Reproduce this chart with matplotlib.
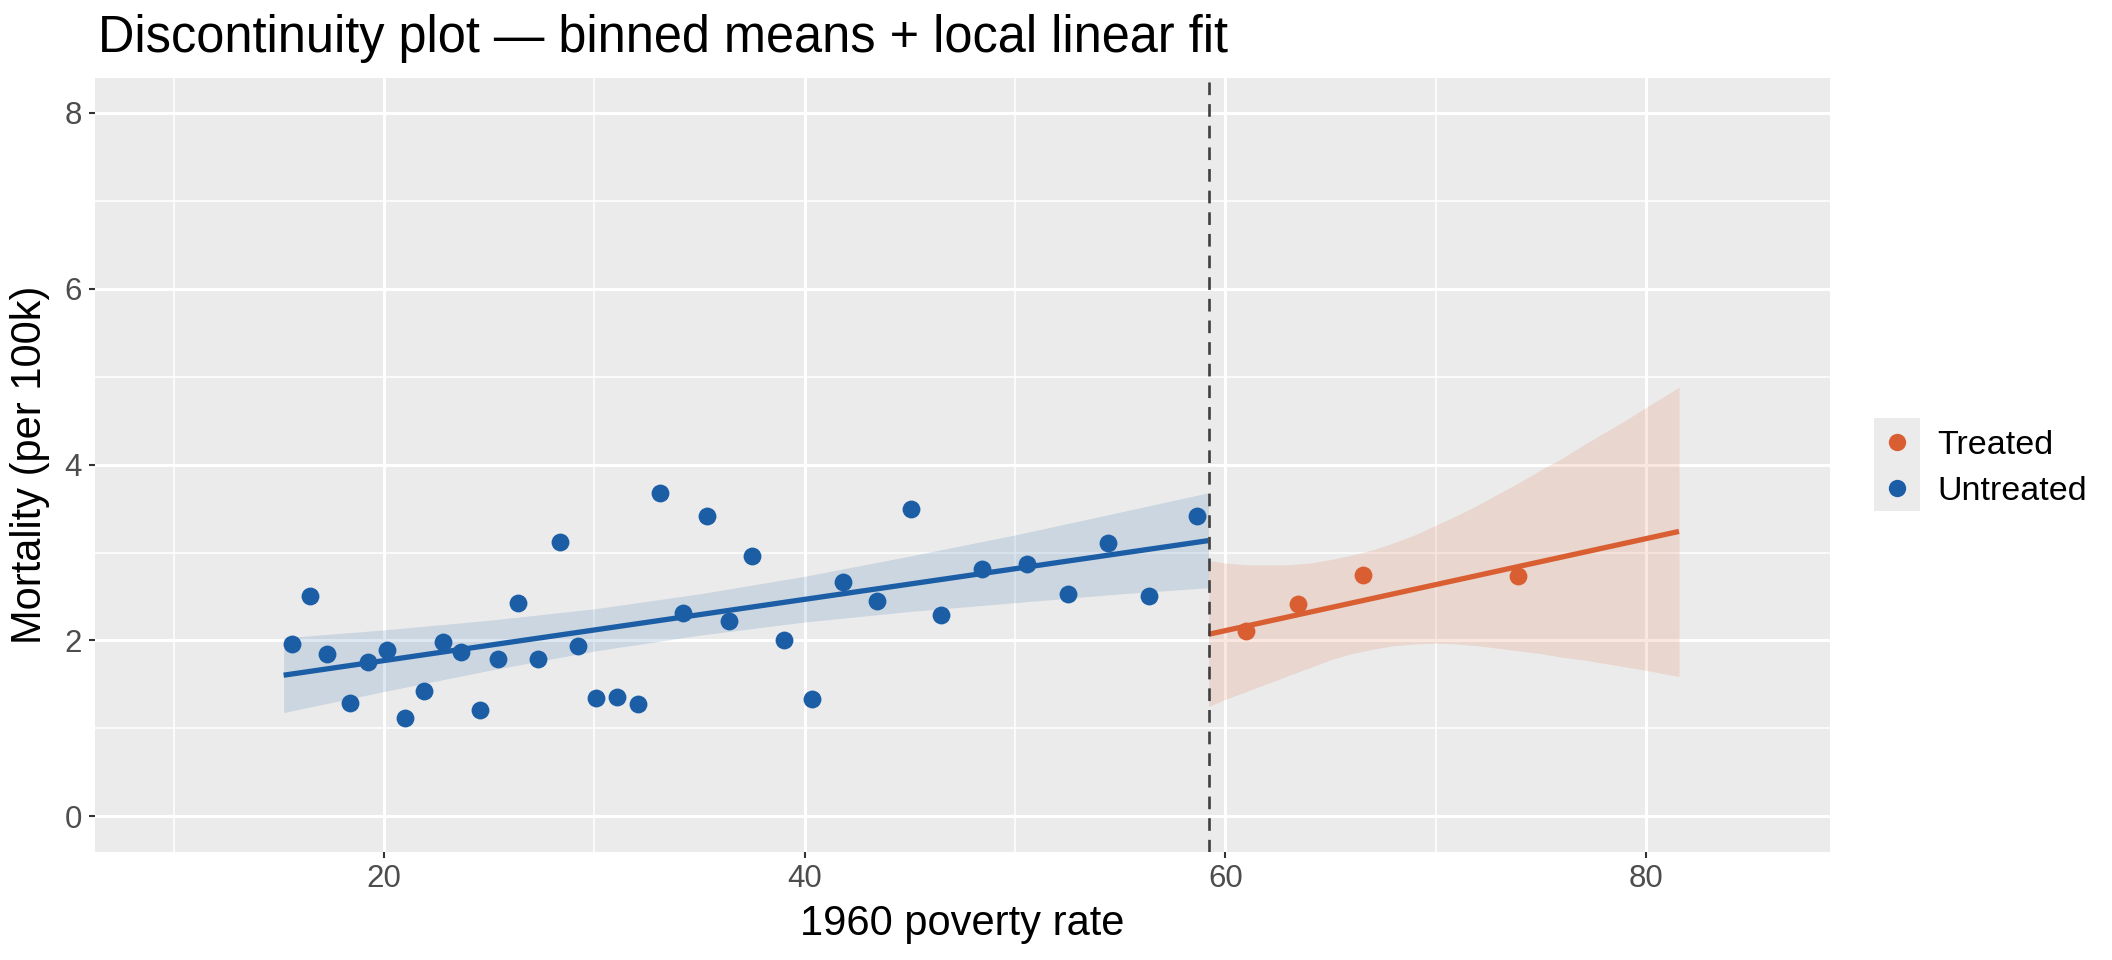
import matplotlib
matplotlib.use("Agg")
import matplotlib.pyplot as plt
from matplotlib.lines import Line2D
from matplotlib.patches import Rectangle

plt.rcParams['font.family'] = ['Liberation Sans', 'DejaVu Sans']

# ---------------- data ----------------
cutoff = 59.1984

untreated_x = [15.64, 16.46, 17.27, 18.37, 19.24, 20.15, 21.00, 21.88, 22.82, 23.66,
               24.57, 25.42, 26.37, 27.31, 28.37, 29.24, 30.08, 31.05, 32.06, 33.11,
               34.22, 35.34, 36.42, 37.51, 39.00, 40.33, 41.82, 43.44, 45.06, 46.50,
               48.45, 50.58, 52.51, 54.40, 56.35, 58.63]
untreated_y = [1.96, 2.50, 1.85, 1.29, 1.76, 1.89, 1.12, 1.43, 1.98, 1.87,
               1.21, 1.79, 2.43, 1.79, 3.12, 1.94, 1.34, 1.36, 1.28, 3.68,
               2.31, 3.41, 2.22, 2.96, 2.01, 1.33, 2.66, 2.45, 3.49, 2.29,
               2.81, 2.87, 2.53, 3.11, 2.50, 3.41]

treated_x = [61.00, 63.43, 66.56, 73.90]
treated_y = [2.11, 2.42, 2.74, 2.73]

# local linear fits (end points) and confidence ribbons
untreated_fit_x = [15.22, 59.1984]
untreated_fit_y = [1.605, 3.136]
untreated_band_x = [15.22, 20.0, 25.0, 30.0, 35.0, 40.0, 45.0, 50.0, 55.0, 59.1984]
untreated_band_lo = [1.18, 1.42, 1.66, 1.88, 2.06, 2.21, 2.33, 2.43, 2.53, 2.60]
untreated_band_hi = [2.03, 2.12, 2.23, 2.36, 2.53, 2.73, 2.96, 3.20, 3.46, 3.68]

treated_fit_x = [59.1984, 81.57]
treated_fit_y = [2.07, 3.24]
treated_band_x = [59.1984, 60.0, 61.0, 62.0, 63.0, 64.0, 65.0, 66.0, 67.0, 68.0,
                  69.0, 70.0, 71.0, 72.0, 73.0, 74.0, 75.0, 76.0, 77.0, 78.0,
                  79.0, 80.0, 81.57]
treated_band_lo = [1.25, 1.33, 1.42, 1.51, 1.60, 1.69, 1.78, 1.85, 1.90, 1.94,
                   1.96, 1.97, 1.96, 1.94, 1.91, 1.88, 1.85, 1.81, 1.78, 1.74,
                   1.70, 1.66, 1.59]
treated_band_hi = [2.91, 2.88, 2.86, 2.86, 2.86, 2.88, 2.92, 2.97, 3.03, 3.11,
                   3.20, 3.31, 3.42, 3.54, 3.67, 3.80, 3.94, 4.07, 4.22, 4.36,
                   4.50, 4.65, 4.88]

x_ticks = [20, 40, 60, 80]
x_minor = [10, 30, 50, 70]
y_ticks = [0, 2, 4, 6, 8]
y_minor = [1, 3, 5, 7]

title = "Discontinuity plot \u2014 binned means + local linear fit"
x_label = "1960 poverty rate"
y_label = "Mortality (per 100k)"
legend_labels = ["Treated", "Untreated"]

col_treated = "#D95F32"
col_untreated = "#1B5EA6"

# ---------------- figure ----------------
W, H = 2112, 960
fig = plt.figure(figsize=(W / 100, H / 100), dpi=100)
pl, pr, pt, pb = 95, 1830, 77.7, 851.5
ax = fig.add_axes([pl / W, 1 - pb / H, (pr - pl) / W, (pb - pt) / H])

ax.set_facecolor("#EBEBEB")
for s in ax.spines.values():
    s.set_visible(False)

ax.set_xlim(6.25, 88.75)
ax.set_ylim(-0.4, 8.4)
ax.set_xticks(x_ticks)
ax.set_xticks(x_minor, minor=True)
ax.set_yticks(y_ticks)
ax.set_yticks(y_minor, minor=True)
ax.grid(which="major", color="white", linewidth=2.2)
ax.grid(which="minor", color="white", linewidth=1.1)
ax.set_axisbelow(True)
ax.tick_params(which="major", length=4.5, width=1.5, color="#333333",
               labelsize=22.5, labelcolor="#4D4D4D", pad=4.8)
ax.tick_params(which="minor", length=0)

# ribbons
ax.fill_between(untreated_band_x, untreated_band_lo, untreated_band_hi,
                color=col_untreated, alpha=0.15, linewidth=0, zorder=2)
ax.fill_between(treated_band_x, treated_band_lo, treated_band_hi,
                color=col_treated, alpha=0.15, linewidth=0, zorder=2)

# fits
ax.plot(untreated_fit_x, untreated_fit_y, color=col_untreated, lw=3.8,
        solid_capstyle="butt", zorder=4)
ax.plot(treated_fit_x, treated_fit_y, color=col_treated, lw=3.8,
        solid_capstyle="butt", zorder=4)

# points
ax.scatter(untreated_x, untreated_y, s=165, color=col_untreated, linewidths=0, zorder=5)
ax.scatter(treated_x, treated_y, s=165, color=col_treated, linewidths=0, zorder=5)

# cutoff
ax.axvline(cutoff, color="#3F3F3F", lw=1.9, linestyle=(0, (4.8, 3.4)), zorder=6)

# labels
fig.text(98 / W, 1 - 51.7 / H, title, fontsize=36.4, color="black",
         ha="left", va="baseline")
ax.set_xlabel(x_label, fontsize=30, color="black")
ax.xaxis.label.set_va("baseline")
ax.xaxis.set_label_coords(0.5, -(935 - pb) / (pb - pt))
ax.set_ylabel(y_label, fontsize=30, color="black")
ax.yaxis.label.set_va("center")
ax.yaxis.set_label_coords((30 - pl) / (pr - pl), 0.5)

# legend
key_x0, key_x1 = 1874, 1920
key_y0, key_y1 = 417.7, 510.7
fig.patches.append(Rectangle((key_x0 / W, 1 - key_y1 / H), (key_x1 - key_x0) / W,
                             (key_y1 - key_y0) / H, transform=fig.transFigure,
                             facecolor="#EBEBEB", edgecolor="none", zorder=0))
handles = [Line2D([], [], linestyle="none", marker="o", markersize=12.5,
                  markerfacecolor=c, markeredgewidth=0)
           for c in (col_treated, col_untreated)]
leg = fig.legend(handles, legend_labels, loc="center left",
                 bbox_to_anchor=(key_x0 / W, 1 - ((key_y0 + key_y1) / 2 + 4) / H),
                 frameon=False, fontsize=24.5, handlelength=1.35,
                 handletextpad=0.5, labelspacing=0.45, borderpad=0,
                 borderaxespad=0, markerscale=1.0)
for t in leg.get_texts():
    t.set_color("black")

fig.savefig("out.png", dpi=100, facecolor="white")
